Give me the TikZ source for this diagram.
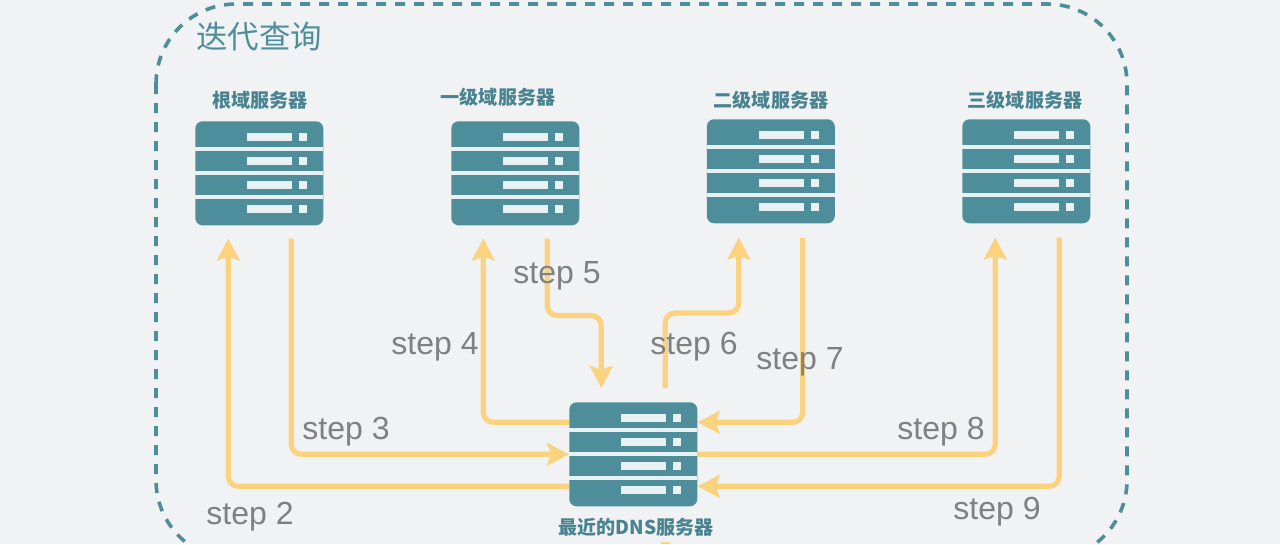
\documentclass[tikz,border=0pt]{standalone}
\usepackage{fontspec}
\setmainfont{Liberation Sans}
\newfontfamily\cjk{Noto Sans CJK SC}
\usetikzlibrary{arrows.meta,calc}
\definecolor{pagebg}{HTML}{F0F2F4}
\definecolor{teal}{HTML}{4E8E9B}
\definecolor{slot}{HTML}{E8F1F3}
\definecolor{flow}{HTML}{FBD27E}
\definecolor{steptext}{HTML}{808080}
\tikzset{
  x=0.75pt,y=-0.75pt,
  srv/.style={fill=teal,rounded corners=5.5pt,minimum width=96pt,minimum height=78pt,inner sep=0pt,anchor=north west},
  srvlabel/.style={text=teal!92!black,font=\cjk\bfseries\fontsize{14.3pt}{16pt}\selectfont,inner sep=0pt},
  titlelabel/.style={text=teal,font=\cjk\fontsize{23.6pt}{26pt}\selectfont,inner sep=0pt},
  steplabel/.style={text=steptext,font=\fontsize{24pt}{28pt}\selectfont,inner sep=0pt},
  flowline/.style={draw=flow,line width=3.9pt,rounded corners=7.5pt},
  flowarrow/.style={flowline,-{Stealth[length=16.5pt,width=17pt,inset=3pt]}},
  frame/.style={draw=teal,line width=2.7pt,dash pattern=on 7.5pt off 6.75pt,rounded corners=60pt},
}
\newcommand{\serverbox}[3]{%
  \node[srv] (#1) at (#2,#3) {};
  \begin{scope}[shift={(#2,#3)}]
    \fill[slot] (0,26) rectangle (128,30);
    \fill[slot] (0,50) rectangle (128,54);
    \fill[slot] (0,74) rectangle (128,78);
    \foreach \b in {12,36,60,84}{
      \fill[slot] (52,\b) rectangle (97,\b+8);
      \fill[slot] (104,\b) rectangle (112,\b+8);
    }
  \end{scope}
}
\begin{document}
\begin{tikzpicture}
\useasboundingbox (0,0) rectangle (1280,544);
\clip (0,0) rectangle (1280,544);
\fill[pagebg] (0,0) rectangle (1280,544);
\draw[frame] (156,4) rectangle (1127,560);
\node[titlelabel] (title) at (259,37) {迭代查询};

\serverbox{root}{195}{121}
\serverbox{first}{451}{121}
\serverbox{second}{706.5}{119}
\serverbox{third}{962}{119}
\serverbox{dns}{569}{402}

\node[srvlabel] (lroot) at (260,100) {根域服务器};
\node[srvlabel] (lfirst) at (498,97) {一级域服务器};
\node[srvlabel] (lsecond) at (771,100) {二级域服务器};
\node[srvlabel] (lthird) at (1025,100) {三级域服务器};
\node[srvlabel] (ldns) at (636,527) {最近的DNS服务器};

\coordinate (rootin) at ($(root.south)+(-31,13)$);
\coordinate (rootout) at ($(root.south)+(32,13)$);
\coordinate (firstin) at ($(first.south)+(-32,13)$);
\coordinate (firstout) at ($(first.south)+(32,13)$);
\coordinate (secondin) at ($(second.south)+(-32,14)$);
\coordinate (secondout) at ($(second.south)+(32,14)$);
\coordinate (thirdin) at ($(third.south)+(-31,14)$);
\coordinate (thirdout) at ($(third.south)+(33,14)$);
\coordinate (dnsin) at ($(dns.north)+(-32,-14)$);
\coordinate (dnsout) at ($(dns.north)+(32,-14)$);

\draw[flowarrow] ($(dns.west)+(0,32)$) -| (rootin);
\draw[flowarrow] (rootout) |- (dns.west);
\draw[flowarrow] ($(dns.west)+(0,-32)$) -| (firstin);
\draw[flowarrow] (firstout) -- ++(0,77) -| (dnsin);
\draw[flowarrow] (dnsout) -- ++(0,-75) -| (secondin);
\draw[flowarrow] (secondout) |- ($(dns.east)+(0,-32)$);
\draw[flowarrow] (dns.east) -| (thirdin);
\draw[flowarrow] (thirdout) |- ($(dns.east)+(0,32)$);
\fill[flow] (661,541.5) rectangle (670,544);

\node[steplabel] (s2) at (250,517) {step 2};
\node[steplabel] (s3) at (346,432) {step 3};
\node[steplabel] (s4) at (435,347) {step 4};
\node[steplabel] (s5) at (557,276) {step 5};
\node[steplabel] (s6) at (694,347) {step 6};
\node[steplabel] (s7) at (800,362) {step 7};
\node[steplabel] (s8) at (941,432) {step 8};
\node[steplabel] (s9) at (997,512) {step 9};
\end{tikzpicture}
\end{document}
